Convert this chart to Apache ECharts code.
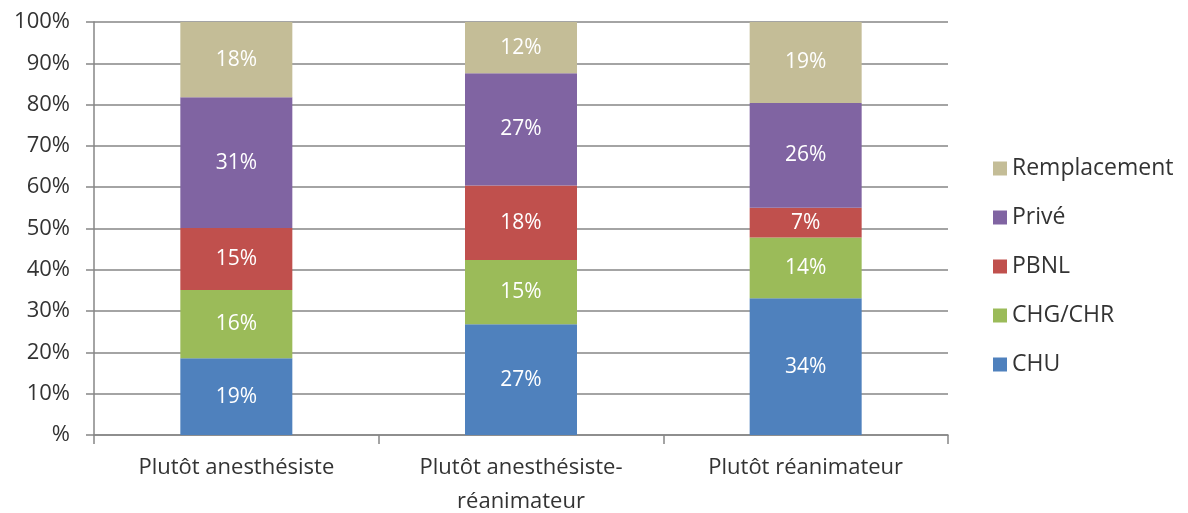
<!DOCTYPE html>
<html>
<head>
<meta charset="utf-8">
<script src="https://cdn.jsdelivr.net/npm/echarts@6/dist/echarts.min.js"></script>
<style>
  html, body { margin: 0; padding: 0; background: #fff; }
  #chart { width: 1188px; height: 513px; }
</style>
</head>
<body>
<div id="chart"></div>
<script>
// catégories (axe x)
var categories = ['Plutôt anesthésiste', 'Plutôt anesthésiste-réanimateur', 'Plutôt réanimateur'];
var yTicks = [0, 10, 20, 30, 40, 50, 60, 70, 80, 90, 100];

// hauteurs (en %)
var chu = [18.6, 26.8, 33.1];
var chg = [16.5, 15.6, 14.7];
var pbnl = [15.0, 18.0, 7.2];
var prive = [31.7, 27.2, 25.4];
var remplacement = [18.2, 12.4, 19.6];

// étiquettes affichées dans les barres
var chuLabels = ['19%', '27%', '34%'];
var chgLabels = ['16%', '15%', '14%'];
var pbnlLabels = ['15%', '18%', '7%'];
var priveLabels = ['31%', '27%', '26%'];
var remplacementLabels = ['18%', '12%', '19%'];

var legendOrder = ['Remplacement', 'Privé', 'PBNL', 'CHG/CHR', 'CHU'];

var font = 'Open Sans';

function mkSerie(name, data, labels, color) {
  return {
    name: name,
    type: 'bar',
    stack: 'total',
    barWidth: 112,
    data: data,
    itemStyle: { color: color },
    label: {
      show: true,
      position: 'inside',
      color: '#fff',
      fontFamily: font,
      fontSize: 21,
      formatter: function (p) { return labels[p.dataIndex]; }
    }
  };
}

var chartDom = document.getElementById('chart');
var myChart = echarts.init(chartDom);

var option = {
  animation: false,
  backgroundColor: '#fff',
  grid: { left: 94, right: 240, top: 22, bottom: 78, outerBoundsMode: 'none', containLabel: false },
  legend: {
    orient: 'vertical',
    left: 988,
    top: 152,
    itemWidth: 14,
    itemHeight: 14,
    itemGap: 26,
    icon: 'rect',
    data: legendOrder,
    textStyle: { fontFamily: font, fontSize: 23, color: '#333' }
  },
  xAxis: {
    type: 'category',
    data: categories,
    axisLine: { lineStyle: { color: '#868686', width: 1.5 } },
    axisTick: { show: true, length: 9, lineStyle: { color: '#868686', width: 1.5 } },
    axisLabel: {
      margin: 16,
      fontFamily: font,
      fontSize: 22,
      color: '#333',
      lineHeight: 34,
      interval: 0,
      formatter: function (v) { return v.replace('-', '-\n'); }
    }
  },
  yAxis: {
    type: 'value',
    min: 0,
    max: 100,
    interval: 10,
    axisLine: { show: true, lineStyle: { color: '#868686', width: 1.5 } },
    axisTick: { show: true, length: 8, lineStyle: { color: '#868686', width: 1.5 } },
    splitLine: { lineStyle: { color: '#868686', width: 1.5 } },
    axisLabel: {
      margin: 24,
      fontFamily: font,
      fontSize: 22,
      color: '#333',
      formatter: function (v) { return yTicks.indexOf(v) === 0 ? '%' : v + '%'; }
    }
  },
  series: [
    mkSerie('CHU', chu, chuLabels, '#4F81BD'),
    mkSerie('CHG/CHR', chg, chgLabels, '#9BBB59'),
    mkSerie('PBNL', pbnl, pbnlLabels, '#C0504D'),
    mkSerie('Privé', prive, priveLabels, '#8064A2'),
    mkSerie('Remplacement', remplacement, remplacementLabels, '#C4BD97')
  ]
};

myChart.setOption(option);
</script>
</body>
</html>
